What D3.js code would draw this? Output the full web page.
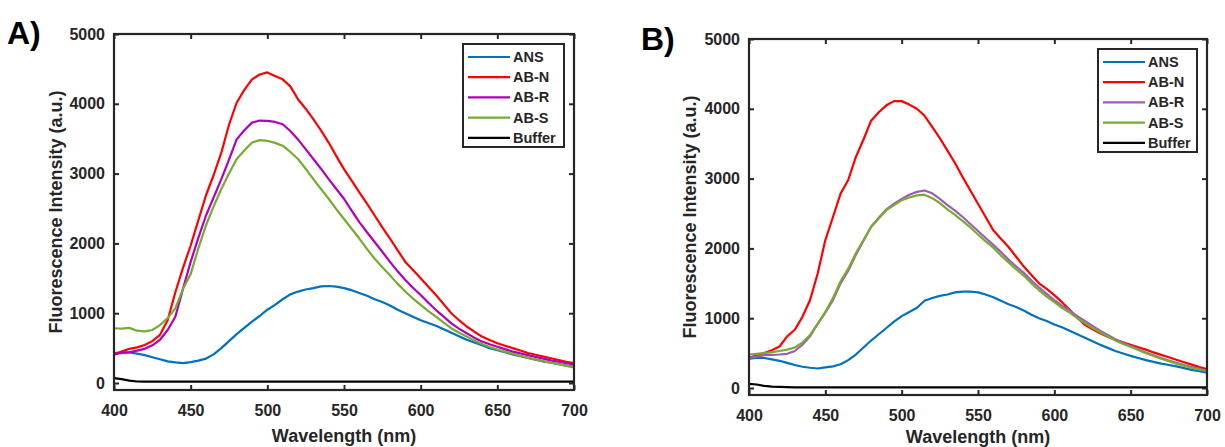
<!DOCTYPE html>
<html>
<head>
<meta charset="utf-8">
<script src="https://cdn.jsdelivr.net/npm/d3@7"></script>
<style>
  html, body { margin: 0; padding: 0; background: #fff; }
  svg { display: block; }
  text { font-family: "Liberation Sans", Arial, sans-serif; font-weight: bold; fill: #262626; }
</style>
</head>
<body>
<svg id="chart" width="1225" height="447"></svg>
<script>
// ---------- data ----------
const wavelengths = d3.range(400, 701, 5);
const seriesNames = ["ANS", "AB-N", "AB-R", "AB-S", "Buffer"];
const xTicks = [400, 450, 500, 550, 600, 650, 700];
const yTicks = [0, 1000, 2000, 3000, 4000, 5000];
const panelLabels = ["A)", "B)"];

const A_ANS = [430,440,440,420,400,370,340,310,295,285,300,320,350,410,500,600,700,790,880,960,1050,1120,1200,1270,1310,1340,1360,1385,1390,1380,1360,1330,1290,1250,1200,1160,1110,1050,1000,950,900,860,820,770,720,670,620,580,540,500,470,440,410,385,360,335,310,290,270,250,230];
const A_ABN = [410,450,490,510,545,600,690,900,1300,1650,1970,2330,2690,2980,3300,3700,4015,4200,4350,4420,4450,4400,4350,4250,4065,3930,3780,3620,3445,3250,3065,2900,2730,2570,2400,2230,2070,1900,1735,1620,1500,1380,1260,1130,1000,900,810,735,665,615,570,535,500,465,430,405,380,355,330,305,285];
const A_ABR = [410,430,440,465,490,540,620,760,950,1350,1735,2080,2400,2660,2920,3200,3490,3620,3730,3760,3755,3740,3707,3610,3490,3350,3210,3070,2920,2780,2640,2470,2305,2160,2020,1880,1735,1600,1475,1365,1260,1150,1045,950,855,780,713,650,595,555,520,485,450,425,400,375,350,325,305,285,265];
const A_ABS = [785,780,790,750,740,760,830,930,1070,1350,1560,1930,2260,2530,2780,3000,3210,3330,3445,3480,3470,3440,3400,3310,3210,3070,2920,2780,2640,2490,2350,2210,2070,1920,1780,1660,1545,1420,1310,1210,1120,1030,950,865,785,720,665,610,560,515,480,450,420,390,360,335,310,290,270,245,225];
const A_BUF = [70,55,35,22,20,20,20,20,20,20,20,20,20,20,20,20,20,20,20,20,20,20,20,20,20,20,20,20,20,20,20,20,20,20,20,20,20,20,20,20,20,20,20,20,20,20,20,20,20,20,20,20,20,20,20,20,20,20,20,20,20];

const B_ANS = [420,430,430,410,390,360,330,305,290,280,295,310,340,400,480,580,680,770,860,950,1030,1090,1150,1250,1290,1320,1340,1370,1380,1380,1370,1340,1300,1250,1200,1160,1110,1050,1000,960,910,870,820,770,720,670,620,575,530,495,460,430,400,375,350,330,310,285,260,240,220];
const B_ABN = [430,470,500,540,595,740,835,1020,1260,1640,2120,2450,2785,2980,3310,3560,3830,3950,4050,4110,4110,4060,4000,3900,3740,3580,3400,3220,3020,2830,2640,2450,2260,2140,2020,1880,1740,1620,1500,1420,1330,1230,1120,1010,905,840,785,735,690,655,620,585,550,510,475,440,405,370,335,300,270];
const B_ABR = [430,450,470,475,480,490,530,620,740,920,1080,1260,1500,1680,1910,2110,2310,2440,2560,2640,2710,2770,2810,2830,2790,2710,2620,2540,2450,2350,2250,2150,2050,1950,1840,1740,1650,1540,1440,1350,1260,1180,1110,1030,960,890,820,760,700,650,600,555,510,470,430,395,360,330,300,275,250];
const B_ABS = [480,490,500,515,530,550,580,650,760,920,1090,1290,1530,1710,1930,2120,2310,2430,2550,2620,2690,2730,2760,2770,2720,2650,2560,2480,2390,2300,2200,2100,2010,1900,1800,1700,1610,1500,1400,1310,1230,1150,1080,1000,930,860,800,740,680,630,590,545,500,460,420,385,350,320,290,265,240];
const B_BUF = [60,50,30,20,15,12,10,10,10,10,10,10,10,10,10,10,10,10,10,10,10,10,10,10,10,10,10,10,10,10,10,10,10,10,10,10,10,10,10,10,10,10,10,10,10,10,10,10,10,10,10,10,10,10,10,10,10,10,10,10,10];

const colorsA = ["#0072BD", "#FF0000", "#B000B8", "#77AC30", "#000000"];
const colorsB = ["#0072BD", "#FF0000", "#A05BB8", "#77AC30", "#000000"];

// ---------- drawing ----------
const svg = d3.select("#chart");
const ink = "#262626";
const fmt = d3.format("d");

function drawPanel(cfg) {
  const { left, right, top, bottom, series, colors, label, labelPos, legend, yLabelX, xLabelY, tickLabelY } = cfg;
  const x = d3.scaleLinear().domain([400, 700]).range([left, right]);
  const y = d3.scaleLinear().domain([-100, 5000]).range([bottom, top]);
  const g = svg.append("g");
  const clipId = "clip" + label.replace(/\W/g, "");
  g.append("clipPath").attr("id", clipId).append("rect")
    .attr("x", left).attr("y", top).attr("width", right - left).attr("height", bottom - top);

  const line = d3.line().x((d, i) => x(wavelengths[i])).y(d => y(d));
  const plot = g.append("g").attr("clip-path", `url(#${clipId})`);
  series.forEach((s, i) => {
    plot.append("path").datum(s)
      .attr("d", line)
      .attr("fill", "none")
      .attr("stroke", colors[i])
      .attr("stroke-width", 2.2)
      .attr("stroke-linejoin", "round");
  });

  const tl = 5;
  const xb = g.append("g").attr("transform", `translate(0,${bottom})`)
    .call(d3.axisBottom(x).tickValues(xTicks).tickSizeInner(-tl).tickSizeOuter(0).tickFormat(fmt));
  const xt = g.append("g").attr("transform", `translate(0,${top})`)
    .call(d3.axisTop(x).tickValues(xTicks).tickSizeInner(-tl).tickSizeOuter(0).tickFormat(""));
  const yl = g.append("g").attr("transform", `translate(${left},0)`)
    .call(d3.axisLeft(y).tickValues(yTicks).tickSizeInner(-tl).tickSizeOuter(0).tickPadding(9).tickFormat(fmt));
  const yr = g.append("g").attr("transform", `translate(${right},0)`)
    .call(d3.axisRight(y).tickValues(yTicks).tickSizeInner(-tl).tickSizeOuter(0).tickFormat(""));
  [xb, xt, yl, yr].forEach(a => {
    a.select(".domain").remove();
    a.selectAll("line").attr("stroke", ink).attr("stroke-width", 2);
    a.selectAll("text").attr("font-size", 16).attr("fill", ink)
      .style("font-family", '"Liberation Sans", Arial, sans-serif').style("font-weight", "bold");
  });
  xb.selectAll("text").attr("dy", null).attr("y", tickLabelY - bottom);

  g.append("rect").attr("x", left).attr("y", top)
    .attr("width", right - left).attr("height", bottom - top)
    .attr("fill", "none").attr("stroke", ink).attr("stroke-width", 2.2);

  g.append("text").attr("x", (left + right) / 2).attr("y", xLabelY)
    .attr("text-anchor", "middle").attr("font-size", 18).text("Wavelength (nm)");
  g.append("text")
    .attr("transform", `translate(${yLabelX},${(top + bottom) / 2}) rotate(-90)`)
    .attr("text-anchor", "middle").attr("font-size", 18).text("Fluorescence Intensity (a.u.)");

  svg.append("text").attr("x", labelPos[0]).attr("y", labelPos[1])
    .attr("font-size", 32).style("fill", "#000").text(label);

  const lg = g.append("g");
  lg.append("rect").attr("x", legend.x).attr("y", legend.y)
    .attr("width", legend.w).attr("height", legend.h)
    .attr("fill", "#fff").attr("stroke", ink).attr("stroke-width", 2);
  seriesNames.forEach((n, i) => {
    const yy = legend.y + 13 + i * 20.2;
    lg.append("line").attr("x1", legend.x + 5).attr("x2", legend.x + 47)
      .attr("y1", yy).attr("y2", yy).attr("stroke", colors[i]).attr("stroke-width", 2.2);
    lg.append("text").attr("x", legend.x + 50).attr("y", yy + 5)
      .attr("font-size", 14.5).text(n);
  });
}

drawPanel({
  left: 114, right: 574, top: 34, bottom: 390,
  series: [A_ANS, A_ABN, A_ABR, A_ABS, A_BUF], colors: colorsA,
  label: panelLabels[0], labelPos: [7, 44],
  legend: { x: 463, y: 44, w: 101, h: 103 },
  yLabelX: 62, xLabelY: 442, tickLabelY: 416
});
drawPanel({
  left: 749, right: 1207, top: 39, bottom: 395,
  series: [B_ANS, B_ABN, B_ABR, B_ABS, B_BUF], colors: colorsB,
  label: panelLabels[1], labelPos: [641, 50],
  legend: { x: 1098, y: 49, w: 99, h: 103 },
  yLabelX: 696, xLabelY: 443, tickLabelY: 421
});
</script>
</body>
</html>
